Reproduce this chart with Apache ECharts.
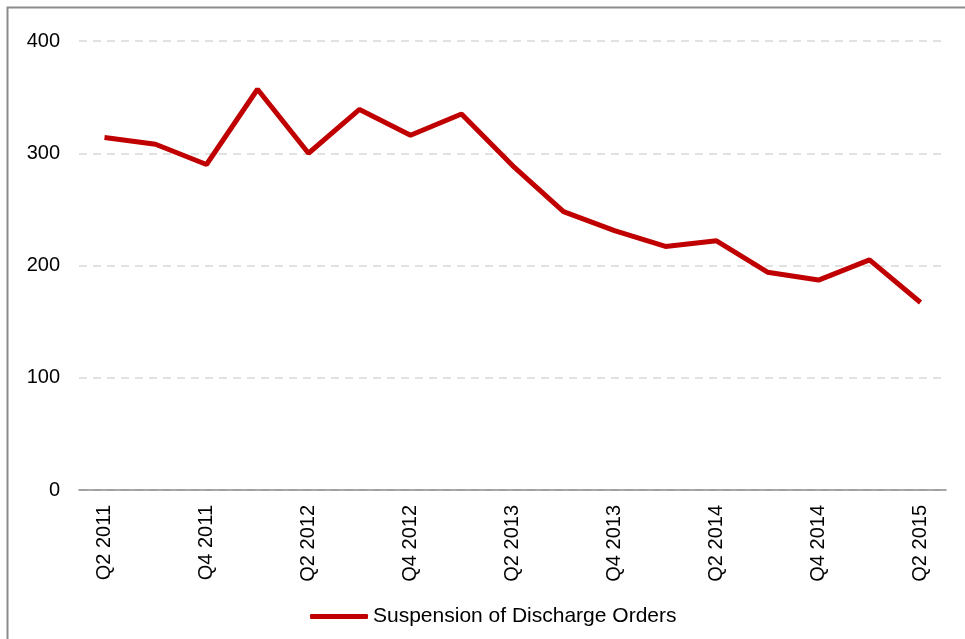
<!DOCTYPE html>
<html>
<head>
<meta charset="utf-8">
<script src="https://cdn.jsdelivr.net/npm/echarts@6/dist/echarts.min.js"></script>
<style>
html,body{margin:0;padding:0;background:#fff;}
#myChart{width:965px;height:639px;}
</style>
</head>
<body>
<div id="myChart"></div>
<script>
/*季度*/
var quarters = ['Q2 2011','Q3 2011','Q4 2011','Q1 2012','Q2 2012','Q3 2012','Q4 2012','Q1 2013','Q2 2013',
    'Q3 2013','Q4 2013','Q1 2014','Q2 2014','Q3 2014','Q4 2014','Q1 2015','Q2 2015'];
var orders = [314,308,290,357,300,339,316,335,289,248,231,217,222,194,187,205,167];
var seriesName = 'Suspension of Discharge Orders';

var myChart = echarts.init(document.getElementById('myChart'));
var font = 'Liberation Sans, Arial, sans-serif';

myChart.setOption({
    animation: false,
    graphic: [{
        type: 'rect',
        shape: {x: 7.5, y: 7.5, width: 1000, height: 700},
        style: {fill: 'none', stroke: '#8c8c8c', lineWidth: 2},
        silent: true
    }],
    grid: {left: 79, right: 19, top: 41, bottom: 149},
    legend: {
        data: [seriesName],
        bottom: 7,
        left: 305,
        itemWidth: 58,
        itemHeight: 5,
        itemGap: 3,
        textStyle: {fontFamily: font, fontSize: 21, color: '#000'},
        icon: 'roundRect'
    },
    xAxis: {
        type: 'category',
        data: quarters,
        boundaryGap: true,
        axisLine: {lineStyle: {color: '#8c8c8c', width: 1.5}},
        axisTick: {show: false},
        axisLabel: {
            interval: 1,
            rotate: 90,
            margin: 15,
            fontFamily: font,
            fontSize: 20,
            color: '#000'
        }
    },
    yAxis: {
        type: 'value',
        min: 0,
        max: 400,
        interval: 100,
        axisLine: {show: false},
        axisTick: {show: false},
        axisLabel: {margin: 19, fontFamily: font, fontSize: 20, color: '#000'},
        splitLine: {lineStyle: {color: '#d9d9d9', type: [8, 6], width: 1.5}}
    },
    series: [{
        name: seriesName,
        type: 'line',
        data: orders,
        symbol: 'none',
        lineStyle: {color: '#c00000', width: 5},
        itemStyle: {color: '#c00000'}
    }]
});
</script>
</body>
</html>
